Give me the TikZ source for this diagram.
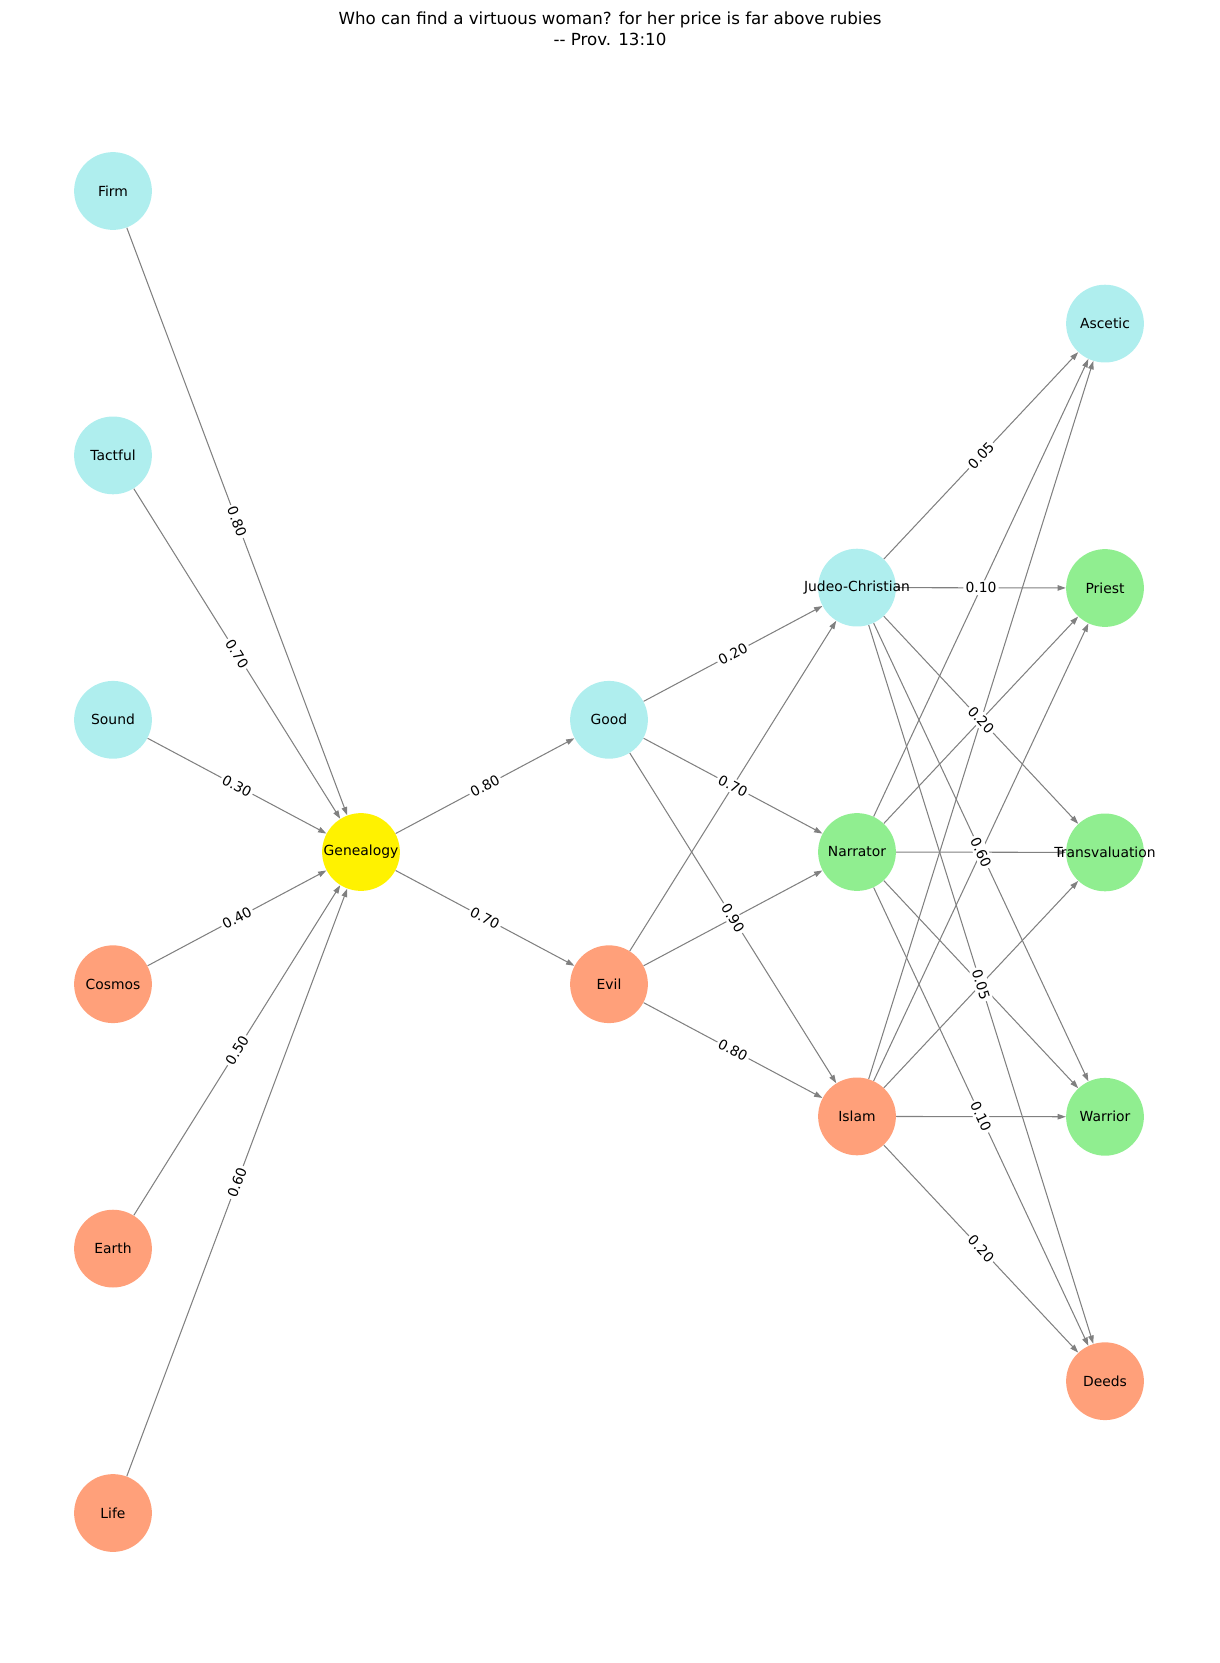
\documentclass[tikz,border=0pt]{standalone}
\usepackage{fontspec}
\setmainfont{DejaVu Sans}
\usepackage{xcolor}
\usepackage{tikz}
\usetikzlibrary{arrows.meta,backgrounds}
\definecolor{paleturq}{HTML}{AFEEEE}
\definecolor{lsalmon}{HTML}{FFA07A}
\definecolor{lgreen}{HTML}{90EE90}
\tikzset{
  unit/.style   ={circle,minimum size=56pt,inner sep=0pt,font=\fontsize{10}{12}\selectfont},
  c1/.style     ={fill=paleturq},
  c2/.style     ={fill=lsalmon},
  c3/.style     ={fill=lgreen},
  c4/.style     ={fill=yellow},
  link/.style   ={draw=gray,line width=0.75pt,-{Triangle[length=6pt,width=4pt]}},
  weight/.style ={fill=white,rounded corners=2pt,inner sep=1.5pt,sloped,font=\fontsize{10}{12}\selectfont},
}

\begin{document}
\begin{tikzpicture}[x=0.72pt,y=-0.72pt]
  \useasboundingbox (0,0) rectangle (1220,1663);
  \node[align=center,font=\fontsize{12}{15}\selectfont] (title) at (610,29)
     {Who can find a virtuous woman? for her price is far above rubies\\-{}- Prov. 13:10};
  % input column
  \foreach \n/\t/\c [count=\i from 0] in {firm/Firm/c1,tact/Tactful/c1,sound/Sound/c1,
                                          cosmos/Cosmos/c2,earth/Earth/c2,life/Life/c2}{
     \node[unit,\c] (\n) at (113,{191+264.4*\i}) {\makebox[0pt]{\t}};
  }
  \node[unit,c4] (gen) at (361,852) {\makebox[0pt]{Genealogy}};
  \node[unit,c1] (good) at (609,719.8) {\makebox[0pt]{Good}};
  \node[unit,c2] (evil) at (609,984.2) {\makebox[0pt]{Evil}};
  \node[unit,c1] (jc) at (857,587.6) {\makebox[0pt]{Judeo-Christian}};
  \node[unit,c3] (narr) at (857,852) {\makebox[0pt]{Narrator}};
  \node[unit,c2] (islam) at (857,1116.4) {\makebox[0pt]{Islam}};
  % output column
  \foreach \n/\t/\c [count=\i from 0] in {asc/Ascetic/c1,priest/Priest/c3,trans/Transvaluation/c3,
                                          warrior/Warrior/c3,deeds/Deeds/c2}{
     \node[unit,\c] (\n) at (1105,{323.6+264.4*\i}) {\makebox[0pt]{\t}};
  }
  % connections, kept under the node texts
  \begin{scope}[on background layer]
  \foreach \a in {firm,tact,sound,cosmos,earth,life}
     \draw[link] (\a) -- (gen);
  \foreach \b in {good,evil}
     \draw[link] (gen) -- (\b);
  \foreach \a in {good,evil}{
     \foreach \b in {jc,narr,islam}
        \draw[link] (\a) -- (\b);
  }
  \foreach \a in {jc,narr,islam}{
     \foreach \b in {asc,priest,trans,warrior,deeds}
        \draw[link] (\a) -- (\b);
  }
  \end{scope}
  % weights
  \foreach \a/\b/\w in {firm/gen/0.80,tact/gen/0.70,sound/gen/0.30,cosmos/gen/0.40,
                        earth/gen/0.50,life/gen/0.60,gen/good/0.80,gen/evil/0.70,
                        good/jc/0.20,good/narr/0.70,good/islam/0.90,evil/islam/0.80,
                        jc/asc/0.05,jc/priest/0.10,jc/trans/0.20,jc/warrior/0.60,
                        jc/deeds/0.05,narr/deeds/0.10,islam/deeds/0.20}
     \path (\a) -- node[weight]{\w} (\b);
\end{tikzpicture}
\end{document}
